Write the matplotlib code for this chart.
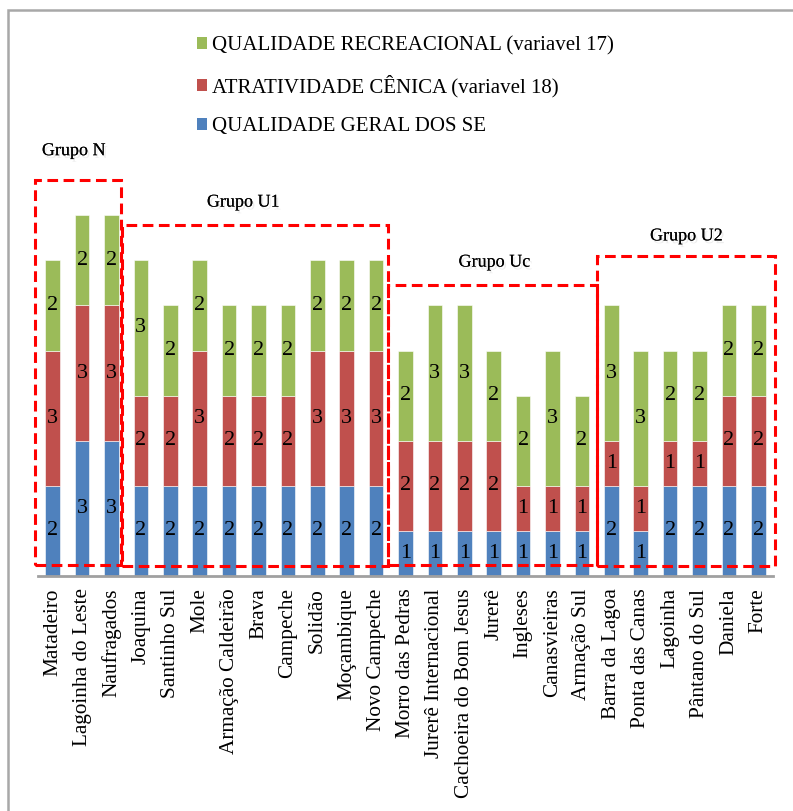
import matplotlib
matplotlib.use("Agg")
import matplotlib.pyplot as plt
import matplotlib.patheffects as pe
from matplotlib.patches import Rectangle, Patch
import numpy as np

plt.rcParams['font.family'] = ['Liberation Serif', 'DejaVu Serif']

categories = ["Matadeiro", "Lagoinha do Leste", "Naufragados", "Joaquina", "Santinho Sul",
              "Mole", "Armação Caldeirão", "Brava", "Campeche", "Solidão", "Moçambique",
              "Novo Campeche", "Morro das Pedras", "Jurerê Internacional",
              "Cachoeira do Bom Jesus", "Jurerê", "Ingleses", "Canasvieiras", "Armação Sul",
              "Barra da Lagoa", "Ponta das Canas", "Lagoinha", "Pântano do Sul", "Daniela", "Forte"]
qualidade_geral = [2, 3, 3, 2, 2, 2, 2, 2, 2, 2, 2, 2, 1, 1, 1, 1, 1, 1, 1, 2, 1, 2, 2, 2, 2]
atratividade = [3, 3, 3, 2, 2, 3, 2, 2, 2, 3, 3, 3, 2, 2, 2, 2, 1, 1, 1, 1, 1, 1, 1, 2, 2]
recreacional = [2, 2, 2, 3, 2, 2, 2, 2, 2, 2, 2, 2, 2, 3, 3, 2, 2, 3, 2, 3, 3, 2, 2, 2, 2]

series_names = ["QUALIDADE GERAL DOS SE", "ATRATIVIDADE CÊNICA (variavel 18)",
                "QUALIDADE RECREACIONAL (variavel 17)"]
colors = ["#4F81BD", "#C0504D", "#9BBB59"]

# group boxes: name, left, right, bottom, top (data units), label x, label y
group_names = ["Grupo N", "Grupo U1", "Grupo Uc", "Grupo U2"]
group_left = [-0.6, 2.35, 11.42, 18.53]
group_right = [2.32, 11.42, 18.51, 24.57]
group_bottom = [0.25, 0.23, 0.24, 0.22]
group_top = [8.78, 7.78, 6.45, 7.10]
group_label_x = [0.71, 6.48, 15.02, 21.55]
group_label_y = [9.43, 8.29, 6.96, 7.54]

W, H = 793, 811
fig = plt.figure(figsize=(W / 100, H / 100), dpi=100)
ax = fig.add_axes([38 / W, (H - 576) / H, 735 / W, 436 / H])

x = np.arange(len(categories))
bottom = np.zeros(len(categories))
for vals, col, name in zip([qualidade_geral, atratividade, recreacional], colors, series_names):
    c = ax.bar(x, vals, width=0.5, bottom=bottom, color=col, label=name,
               edgecolor='white', linewidth=0.4)
    ax.bar_label(c, labels=[str(v) for v in vals], label_type='center', fontsize=16, color='black')
    bottom += np.array(vals)

ax.set_xlim(-0.5, len(categories) - 0.5)
ax.set_ylim(0, 436 / 45.1)
ax.set_yticks([])
ax.set_xticks(x)
ax.set_xticklabels(categories, rotation=90, fontsize=15.3)
ax.tick_params(axis='x', length=0, pad=9)
for s in ['top', 'left', 'right']:
    ax.spines[s].set_visible(False)
ax.spines['bottom'].set_color('#A0A0A0')
ax.spines['bottom'].set_linewidth(2)

for name, l, r, b, t, lx, ly in zip(group_names, group_left, group_right, group_bottom,
                                     group_top, group_label_x, group_label_y):
    rect = Rectangle((l, b), r - l, t - b, fill=False, edgecolor='#FF0000', linewidth=2.2,
                     linestyle=(0, (3.5, 1.8)), clip_on=False, zorder=5)
    ax.add_patch(rect)
    ax.text(lx, ly, name, ha='center', va='center', fontsize=13, clip_on=False,
            path_effects=[pe.withSimplePatchShadow(offset=(1.5, -2), shadow_rgbFace='#A0A0A0', alpha=0.18),
                          pe.Normal()])

handles = [Patch(facecolor=colors[2]), Patch(facecolor=colors[1]), Patch(facecolor=colors[0])]
labels = [series_names[2], series_names[1], series_names[0]]
fig.legend(handles, labels, loc='upper left', bbox_to_anchor=(197 / W, 1 - 36 / H),
           frameon=False, fontsize=15, borderpad=0, borderaxespad=0,
           handlelength=0.5, handleheight=0.5, handletextpad=0.2, labelspacing=0.95)

# outer frame
fig.add_artist(Rectangle((8 / W, -0.05), 1.2, (H - 10) / H + 0.05, transform=fig.transFigure,
                         fill=False, edgecolor='#A8A8A8', linewidth=1.8))

fig.savefig("out.png", dpi=100)
